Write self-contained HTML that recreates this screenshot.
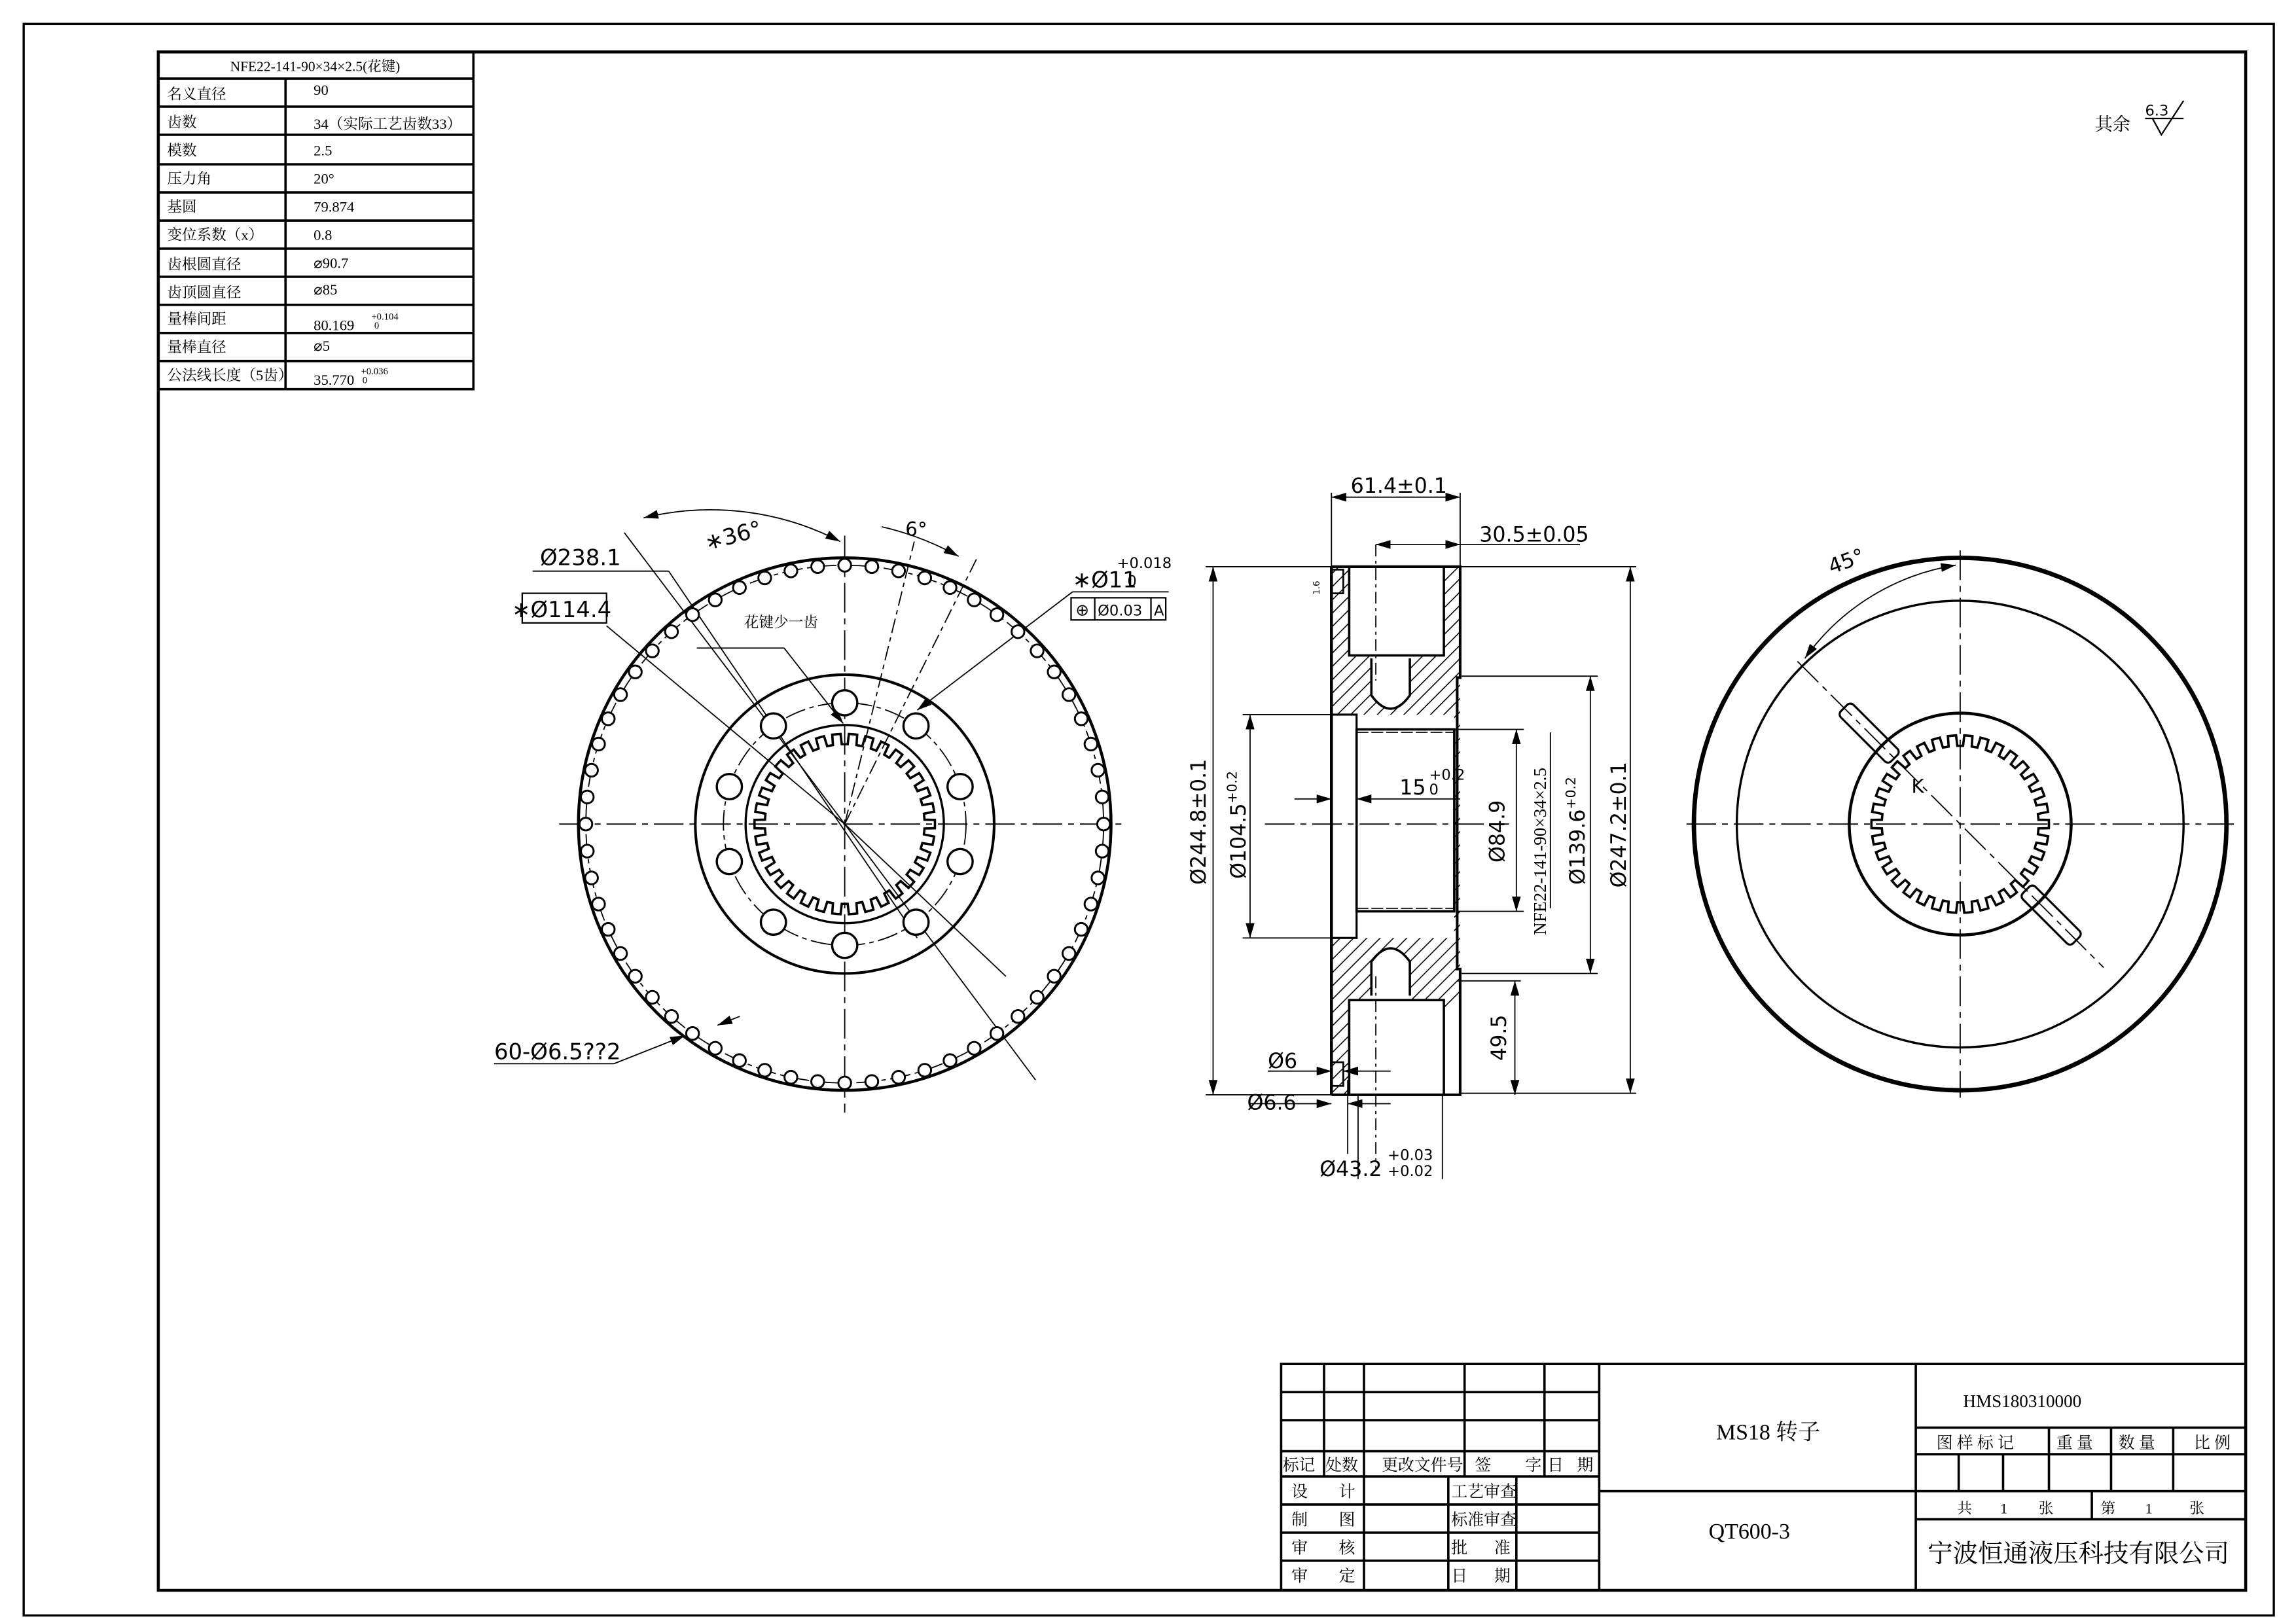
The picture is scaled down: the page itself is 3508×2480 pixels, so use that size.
<!DOCTYPE html>
<html><head><meta charset="utf-8"><style>
html,body{margin:0;padding:0;background:#fff}
svg{display:block}
text{font-family:"Liberation Serif","Noto Serif CJK SC","Noto Sans CJK SC",serif;fill:#000}
.s{font-family:"DejaVu Sans","Liberation Sans","Noto Sans CJK SC",sans-serif}
</style></head><body>
<svg id="d" xmlns="http://www.w3.org/2000/svg" width="3508" height="2480" viewBox="0 0 1552 1097">
<defs>
<marker id="ae" viewBox="0 0 10 6" refX="10" refY="3" markerWidth="10" markerHeight="6" markerUnits="userSpaceOnUse" orient="auto"><path d="M0,0 L10,3 L0,6 Z" fill="#000"/></marker>
<marker id="as" viewBox="0 0 10 6" refX="0" refY="3" markerWidth="10" markerHeight="6" markerUnits="userSpaceOnUse" orient="auto"><path d="M10,0 L0,3 L10,6 Z" fill="#000"/></marker>
</defs>
<rect x="0" y="0" width="1552" height="1097" fill="#fff"/>
<rect x="16" y="16" width="1521" height="1076" fill="none" stroke="#000" stroke-width="1.5"/>
<rect x="107" y="35" width="1411" height="1040" fill="none" stroke="#000" stroke-width="2"/>

<g stroke="#000" stroke-width="1.6" fill="none">
<rect x="107" y="35" width="213" height="228"/>
<line x1="193" y1="53" x2="193" y2="263"/>
<line x1="107" y1="53" x2="320" y2="53"/><line x1="107" y1="72" x2="320" y2="72"/><line x1="107" y1="91" x2="320" y2="91"/>
<line x1="107" y1="111" x2="320" y2="111"/><line x1="107" y1="130" x2="320" y2="130"/><line x1="107" y1="149" x2="320" y2="149"/>
<line x1="107" y1="168" x2="320" y2="168"/><line x1="107" y1="187" x2="320" y2="187"/><line x1="107" y1="206" x2="320" y2="206"/>
<line x1="107" y1="225" x2="320" y2="225"/><line x1="107" y1="244" x2="320" y2="244"/>
</g>
<g font-size="10">
<text x="213" y="48" text-anchor="middle" font-size="9.5">NFE22-141-90×34×2.5(花键)</text>
<text x="113" y="67">名义直径</text><text x="212" y="64">90</text>
<text x="113" y="86">齿数</text><text x="212" y="87">34（实际工艺齿数33）</text>
<text x="113" y="105">模数</text><text x="212" y="105">2.5</text>
<text x="113" y="124">压力角</text><text x="212" y="124">20°</text>
<text x="113" y="143">基圆</text><text x="212" y="143">79.874</text>
<text x="113" y="162">变位系数（x）</text><text x="212" y="162">0.8</text>
<text x="113" y="182">齿根圆直径</text><text x="212" y="181">⌀90.7</text>
<text x="113" y="201">齿顶圆直径</text><text x="212" y="199">⌀85</text>
<text x="113" y="219">量棒间距</text><text x="212" y="223">80.169</text><text x="251" y="216" font-size="6.5">+0.104</text><text x="253" y="222" font-size="6.5">0</text>
<text x="113" y="238">量棒直径</text><text x="212" y="237">⌀5</text>
<text x="113" y="257">公法线长度（5齿）</text><text x="212" y="260">35.770</text><text x="244" y="253" font-size="6.5">+0.036</text><text x="245" y="259" font-size="6.5">0</text>
</g>

<text x="1416" y="88" font-size="12">其余</text>
<text x="1450" y="78" font-size="10" class="s">6.3</text>
<path d="M1450,80 L1476,80 M1455,80 L1461,91 L1476,68" fill="none" stroke="#000" stroke-width="1"/>

<!-- LEFT VIEW -->
<g stroke="#000" fill="none">
<circle cx="571" cy="557" r="180" stroke-width="2"/>
<circle cx="571" cy="557" r="101" stroke-width="1.8"/>
<circle cx="571" cy="557" r="82" stroke-width="0.8" stroke-dasharray="14,3,3,3"/>
<circle cx="571" cy="557" r="67" stroke-width="1.5"/>
<circle cx="571" cy="557" r="175" stroke-width="0.8" stroke-dasharray="14,3,3,3"/>
<line x1="378" y1="557" x2="762" y2="557" stroke-width="0.8" stroke-dasharray="20,4,4,4"/>
<line x1="571" y1="362" x2="571" y2="752" stroke-width="0.8" stroke-dasharray="20,4,4,4"/>
<path d="M435,350 A190,190 0 0 1 568,366" stroke-width="0.8" marker-start="url(#as)" marker-end="url(#ae)"/>
<path d="M596,356 A200,200 0 0 1 648,376" stroke-width="0.8" marker-end="url(#ae)"/>
<line x1="422" y1="360" x2="571" y2="557" stroke-width="0.8"/>
<line x1="571" y1="557" x2="700" y2="730" stroke-width="0.8"/>
<line x1="360" y1="386" x2="452" y2="386" stroke-width="0.8"/>
<line x1="452" y1="386" x2="620" y2="634" stroke-width="0.8"/>
<line x1="410" y1="423" x2="571" y2="557" stroke-width="0.8"/>
<line x1="571" y1="557" x2="680" y2="660" stroke-width="0.8"/>
<line x1="571" y1="557" x2="618" y2="366" stroke-width="0.8" stroke-dasharray="10,3,3,3"/>
<line x1="571" y1="557" x2="660" y2="378" stroke-width="0.8" stroke-dasharray="10,3,3,3"/>
<line x1="471" y1="438" x2="530" y2="438" stroke-width="0.8"/>
<line x1="530" y1="438" x2="570" y2="489" stroke-width="0.8" marker-end="url(#ae)"/>
<line x1="725" y1="400" x2="620" y2="480" stroke-width="0.8" marker-end="url(#ae)"/>
<line x1="725" y1="400" x2="790" y2="400" stroke-width="0.8"/>
<line x1="334" y1="719" x2="415" y2="719" stroke-width="0.8"/>
<line x1="415" y1="719" x2="463" y2="700" stroke-width="0.8" marker-end="url(#ae)"/>
<line x1="500" y1="687" x2="485" y2="693" stroke-width="0.8" marker-end="url(#ae)"/>
</g>
<g font-size="15" class="s">
<text x="478" y="372" class="s" transform="rotate(-15 478 372)">∗36°</text>
<text x="612" y="362" class="s" font-size="13">6°</text>
<text x="365" y="382" class="s">Ø238.1</text>
<rect x="353" y="401" width="57" height="20" fill="none" stroke="#000" stroke-width="1"/>
<text x="346" y="417" class="s">∗Ø114.4</text>
<text x="725" y="397" class="s">∗Ø11</text>
<text x="755" y="384" font-size="10" class="s">+0.018</text>
<text x="762" y="396" font-size="10" class="s">0</text>
<rect x="724" y="404" width="64" height="15" fill="none" stroke="#000" stroke-width="1"/>
<line x1="740" y1="404" x2="740" y2="419" stroke="#000"/><line x1="778" y1="404" x2="778" y2="419" stroke="#000"/>
<text x="727" y="416" font-size="11" class="s">⊕</text>
<text x="742" y="416" font-size="10" class="s">Ø0.03</text>
<text x="780" y="416" font-size="10" class="s">A</text>
<text x="334" y="716" class="s">60-Ø6.5??2</text>
</g>
<text x="503" y="424" font-size="10">花键少一齿</text>

<!-- SECTION VIEW -->
<g stroke="#000" fill="none">
<line x1="900" y1="333" x2="900" y2="383" stroke-width="0.8"/>
<line x1="987" y1="333" x2="987" y2="383" stroke-width="0.8"/>
<line x1="900" y1="336" x2="987" y2="336" stroke-width="0.8" marker-start="url(#as)" marker-end="url(#ae)"/>
<line x1="930" y1="368" x2="987" y2="368" stroke-width="0.8" marker-start="url(#as)" marker-end="url(#ae)"/>
<line x1="987" y1="368" x2="1068" y2="368" stroke-width="0.8"/>
<line x1="930" y1="368" x2="930" y2="460" stroke-width="0.8" stroke-dasharray="8,3,2,3"/>
<line x1="930" y1="660" x2="930" y2="790" stroke-width="0.8" stroke-dasharray="8,3,2,3"/>
<line x1="815" y1="383" x2="900" y2="383" stroke-width="0.8"/>
<line x1="815" y1="740" x2="900" y2="740" stroke-width="0.8"/>
<line x1="820" y1="383" x2="820" y2="740" stroke-width="0.8" marker-start="url(#as)" marker-end="url(#ae)"/>
<line x1="987" y1="383" x2="1106" y2="383" stroke-width="0.8"/>
<line x1="987" y1="739" x2="1106" y2="739" stroke-width="0.8"/>
<line x1="1102" y1="383" x2="1102" y2="739" stroke-width="0.8" marker-start="url(#as)" marker-end="url(#ae)"/>
<line x1="988" y1="457" x2="1080" y2="457" stroke-width="0.8"/>
<line x1="988" y1="658" x2="1080" y2="658" stroke-width="0.8"/>
<line x1="1075" y1="457" x2="1075" y2="658" stroke-width="0.8" marker-start="url(#as)" marker-end="url(#ae)"/>
<line x1="840" y1="483" x2="900" y2="483" stroke-width="0.8"/>
<line x1="840" y1="634" x2="900" y2="634" stroke-width="0.8"/>
<line x1="845" y1="483" x2="845" y2="634" stroke-width="0.8" marker-start="url(#as)" marker-end="url(#ae)"/>
<line x1="985" y1="493" x2="1030" y2="493" stroke-width="0.8"/>
<line x1="985" y1="616" x2="1030" y2="616" stroke-width="0.8"/>
<line x1="1025" y1="493" x2="1025" y2="616" stroke-width="0.8" marker-start="url(#as)" marker-end="url(#ae)"/>
<line x1="1048" y1="495" x2="1048" y2="614" stroke-width="0.8"/>
<line x1="985" y1="663" x2="1028" y2="663" stroke-width="0.8"/>
<line x1="1024" y1="663" x2="1024" y2="740" stroke-width="0.8" marker-start="url(#as)" marker-end="url(#ae)"/>
<line x1="875" y1="540" x2="900" y2="540" stroke-width="0.8" marker-end="url(#ae)"/>
<line x1="987" y1="540" x2="917" y2="540" stroke-width="0.8" marker-end="url(#ae)"/>
<line x1="855" y1="557" x2="1020" y2="557" stroke-width="0.8" stroke-dasharray="20,4,4,4"/>
<line x1="857" y1="724" x2="900" y2="724" stroke-width="0.8" marker-end="url(#ae)"/>
<line x1="940" y1="724" x2="908" y2="724" stroke-width="0.8" marker-end="url(#ae)"/>
<line x1="845" y1="746" x2="900" y2="746" stroke-width="0.8" marker-end="url(#ae)"/>
<line x1="940" y1="746" x2="911" y2="746" stroke-width="0.8" marker-end="url(#ae)"/>
<line x1="911" y1="730" x2="911" y2="780" stroke-width="0.8"/>
<line x1="918" y1="740" x2="918" y2="797" stroke-width="0.8"/>
<line x1="975" y1="740" x2="975" y2="797" stroke-width="0.8"/>
<line x1="900" y1="383" x2="900" y2="740" stroke-width="2"/>
<path d="M900,383 L987,383 L987,458 L985,458 L985,655 L987,655 L987,740 L900,740" stroke-width="1.8"/>
<rect x="912" y="383" width="64" height="60" stroke-width="1.6"/>
<rect x="912" y="676" width="64" height="64" stroke-width="1.6"/>
<path d="M927,445 L927,470 Q940,488 953,470 L953,445" stroke-width="1.6"/>
<path d="M927,673 L927,650 Q940,632 953,650 L953,673" stroke-width="1.6"/>
<rect x="900" y="483" width="17" height="151" stroke-width="1.4"/>
<rect x="917" y="493" width="66" height="123" stroke-width="1.6"/>
<line x1="917" y1="495" x2="983" y2="495" stroke-width="0.7" stroke-dasharray="8,2"/>
<line x1="917" y1="614" x2="983" y2="614" stroke-width="0.7" stroke-dasharray="8,2"/>
<rect x="900" y="385" width="8" height="16" stroke-width="1.2"/>
<rect x="900" y="718" width="8" height="16" stroke-width="1.2"/>
<g id="hatch" stroke-width="0.7"></g>
</g>
<g class="s" font-size="14">
<text x="913" y="333" class="s">61.4±0.1</text>
<text x="1000" y="366" class="s">30.5±0.05</text>
<text x="946" y="537" class="s">15</text>
<text x="966" y="527" font-size="10" class="s">+0.2</text>
<text x="966" y="537" font-size="10" class="s">0</text>
<text x="0" y="0" transform="translate(815,598) rotate(-90)" class="s">Ø244.8±0.1</text>
<text x="0" y="0" transform="translate(842,594) rotate(-90)" class="s">Ø104.5<tspan font-size="9" dy="-6">+0.2</tspan></text>
<text x="0" y="0" transform="translate(1017,583) rotate(-90)" class="s">Ø84.9</text>
<text x="0" y="0" transform="translate(1071,598) rotate(-90)" class="s">Ø139.6<tspan font-size="9" dy="-6">+0.2</tspan></text>
<text x="0" y="0" transform="translate(1099,600) rotate(-90)" class="s">Ø247.2±0.1</text>
<text x="0" y="0" transform="translate(1018,717) rotate(-90)" class="s">49.5</text>
<text x="857" y="722" class="s">Ø6</text>
<text x="843" y="750" class="s">Ø6.6</text>
<text x="892" y="795" class="s">Ø43.2</text>
<text x="938" y="784" font-size="10" class="s">+0.03</text>
<text x="938" y="795" font-size="10" class="s">+0.02</text>
</g>
<text x="0" y="0" transform="translate(1045,632) rotate(-90)" font-size="12">NFE22-141-90×34×2.5</text>
<text x="0" y="0" transform="translate(892,402) rotate(-90)" font-size="6" class="s">1.6</text>

<!-- RIGHT VIEW -->
<g stroke="#000" fill="none">
<circle cx="1325" cy="557" r="180" stroke-width="3"/>
<circle cx="1325" cy="557" r="151" stroke-width="1.5"/>
<circle cx="1325" cy="557" r="75" stroke-width="2"/>
<line x1="1140" y1="557" x2="1510" y2="557" stroke-width="0.8" stroke-dasharray="20,4,4,4"/>
<line x1="1325" y1="372" x2="1325" y2="742" stroke-width="0.8" stroke-dasharray="20,4,4,4"/>
<line x1="1215" y1="447" x2="1422" y2="654" stroke-width="0.8" stroke-dasharray="20,4,4,4"/>
<path d="M1220,445 A155,155 0 0 1 1322,382" stroke-width="0.8" marker-start="url(#as)" marker-end="url(#ae)"/>
<g transform="rotate(45 1325 557)">
<rect x="1214" y="551" width="48" height="12" rx="3" stroke-width="1.4"/>
<rect x="1388" y="551" width="48" height="12" rx="3" stroke-width="1.4"/>
</g>
</g>
<text x="1238" y="388" font-size="14" class="s" transform="rotate(-20 1238 388)">45°</text>
<text x="1292" y="536" font-size="13" class="s">K</text>

<!-- title block -->
<g stroke="#000" fill="none" stroke-width="1.6">
<rect x="866" y="922" width="652" height="153"/>
<line x1="1081" y1="922" x2="1081" y2="1075"/>
<line x1="1295" y1="922" x2="1295" y2="1075"/>
<line x1="1081" y1="1008" x2="1518" y2="1008"/>
<line x1="866" y1="941" x2="1081" y2="941"/>
<line x1="866" y1="960" x2="1081" y2="960"/>
<line x1="866" y1="981" x2="1081" y2="981"/>
<line x1="866" y1="998" x2="1081" y2="998"/>
<line x1="866" y1="1017" x2="1081" y2="1017"/>
<line x1="866" y1="1036" x2="1081" y2="1036"/>
<line x1="866" y1="1055" x2="1081" y2="1055"/>
<line x1="895" y1="922" x2="895" y2="998"/>
<line x1="922" y1="922" x2="922" y2="1075"/>
<line x1="990" y1="922" x2="990" y2="998"/>
<line x1="1044" y1="922" x2="1044" y2="998"/>
<line x1="979" y1="998" x2="979" y2="1075"/>
<line x1="1025" y1="998" x2="1025" y2="1075"/>
<line x1="1295" y1="965" x2="1518" y2="965"/>
<line x1="1295" y1="983" x2="1518" y2="983"/>
<line x1="1295" y1="1027" x2="1518" y2="1027"/>
<line x1="1385" y1="965" x2="1385" y2="1008"/>
<line x1="1427" y1="965" x2="1427" y2="1008"/>
<line x1="1469" y1="965" x2="1469" y2="1008"/>
<line x1="1324" y1="983" x2="1324" y2="1008"/>
<line x1="1354" y1="983" x2="1354" y2="1008"/>
<line x1="1414" y1="1008" x2="1414" y2="1027"/>
</g>
<g font-size="11">
<text x="867" y="994">标记</text><text x="896" y="994">处数</text><text x="934" y="994">更改文件号</text>
<text x="997" y="994">签</text><text x="1031" y="994">字</text><text x="1046" y="994">日</text><text x="1066" y="994">期</text>
<text x="873" y="1012">设</text><text x="905" y="1012">计</text><text x="981" y="1012">工艺审查</text>
<text x="873" y="1031">制</text><text x="905" y="1031">图</text><text x="981" y="1031">标准审查</text>
<text x="873" y="1050">审</text><text x="905" y="1050">核</text><text x="981" y="1050">批</text><text x="1010" y="1050">准</text>
<text x="873" y="1069">审</text><text x="905" y="1069">定</text><text x="981" y="1069">日</text><text x="1010" y="1069">期</text>
<text x="1160" y="973" font-size="15">MS18 转子</text>
<text x="1155" y="1040" font-size="15">QT600-3</text>
<text x="1327" y="951" font-size="12">HMS180310000</text>
<text x="1309" y="979">图 样 标 记</text><text x="1390" y="979">重 量</text><text x="1432" y="979">数 量</text><text x="1483" y="979">比 例</text>
<text x="1323" y="1023" font-size="10">共</text><text x="1352" y="1023" font-size="10">1</text><text x="1378" y="1023" font-size="10">张</text>
<text x="1420" y="1023" font-size="10">第</text><text x="1450" y="1023" font-size="10">1</text><text x="1480" y="1023" font-size="10">张</text>
<text x="1303" y="1056" font-size="17">宁波恒通液压科技有限公司</text>
</g>
<g id="gen"></g>
</svg>
<script>
(function(){
var NS="http://www.w3.org/2000/svg",g=document.getElementById("gen"),h=document.getElementById("hatch");
function el(n,a,p){var e=document.createElementNS(NS,n);for(var k in a)e.setAttribute(k,a[k]);(p||g).appendChild(e);return e;}
var cx=571,cy=557,i,a;
for(i=0;i<60;i++){a=i*6*Math.PI/180;el("circle",{cx:cx+175*Math.cos(a),cy:cy+175*Math.sin(a),r:4.3,fill:"#fff",stroke:"#000","stroke-width":1.3});}
for(i=0;i<10;i++){a=(90+36*i)*Math.PI/180;el("circle",{cx:cx+82*Math.cos(a),cy:cy-82*Math.sin(a),r:8.5,fill:"#fff",stroke:"#000","stroke-width":1.5});}
function spline(x,y,ri,ro,n){var d="",k,s=2*Math.PI/n;for(k=0;k<n;k++){var b=k*s;var pts=[[ro,b],[ro,b+s*0.25],[ri,b+s*0.3],[ri,b+s*0.7],[ro,b+s*0.75]];pts.forEach(function(p,j){d+=(k==0&&j==0?"M":"L")+(x+p[0]*Math.cos(p[1])).toFixed(2)+","+(y+p[0]*Math.sin(p[1])).toFixed(2);});}
el("path",{d:d+"Z",fill:"none",stroke:"#000","stroke-width":1.6});}
spline(571,557,54,61,34);
spline(1325,557,53,60,34);
var clip=el("clipPath",{id:"cp"});
el("path",{d:"M900,383 L987,383 L987,740 L900,740 Z M912,383 L912,443 L976,443 L976,383 Z M912,676 L912,740 L976,740 L976,676 Z M900,483 L900,634 L983,634 L983,483 Z M927,443 L927,470 Q940,488 953,470 L953,443 Z M927,676 L927,650 Q940,632 953,650 L953,676 Z","clip-rule":"evenodd"},clip);
var hg=el("g",{"clip-path":"url(#cp)"},h);
for(i=-200;i<400;i+=9){el("line",{x1:880,y1:383+i,x2:1000,y2:383+i-120},hg);}
})();
</script>
</body></html>
